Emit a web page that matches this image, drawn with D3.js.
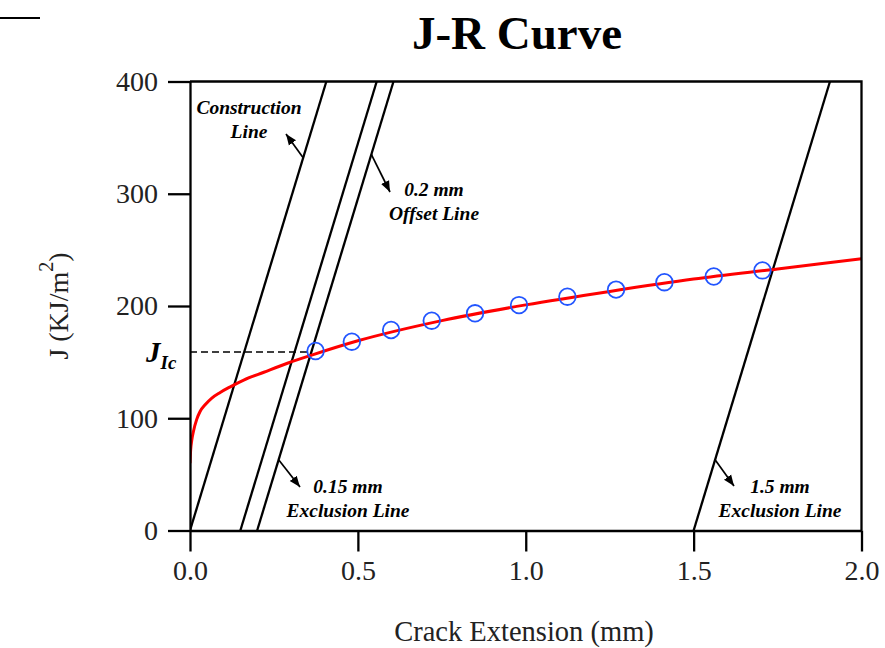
<!DOCTYPE html>
<html><head><meta charset="utf-8">
<script src="https://cdn.jsdelivr.net/npm/d3@7"></script>
<style>body{margin:0;background:#fff}svg{display:block}</style>
</head><body>
<svg id="c" width="885" height="648"></svg>
<script>
// ---- data ----
const xTicks = [0, 0.5, 1.0, 1.5, 2.0];
const yTicks = [0, 100, 200, 300, 400];
const pointsDa = [0.374, 0.482, 0.599, 0.72, 0.849, 0.98, 1.124, 1.269, 1.413, 1.56, 1.705];
const pointsJ  = [159.9, 168.2, 178.6, 186.9, 193.5, 200.8, 208.3, 214.6, 221.2, 226.3, 231.7];
const fitDa = [0, 0.002, 0.005, 0.01, 0.02, 0.03, 0.045, 0.065, 0.09, 0.12, 0.16, 0.22, 0.29, 0.36, 0.5, 0.75, 1.0, 1.25, 1.5, 1.75, 2.0];
const fitJ  = [60, 72, 80, 88, 99, 106, 112, 118, 123, 128, 134, 141, 149, 156, 169, 187, 201, 213, 224, 233, 242];
const lineOffsets = [0, 0.15, 0.2, 1.5];
const lineSlope = 985; // J per mm
const JIc = 159;
const JIcDa = 0.374;

const svg = d3.select("#c");
const x = d3.scaleLinear().domain([0, 2]).range([190, 861.5]);
const y = d3.scaleLinear().domain([0, 400]).range([530.5, 81.5]);
const serif = "'Liberation Serif','Times New Roman',serif";

// stray mark top-left
svg.append("line").attr("x1",0).attr("x2",40).attr("y1",18).attr("y2",18)
  .attr("stroke","#000").attr("stroke-width",2);

// title
svg.append("text").attr("x",517).attr("y",49).attr("text-anchor","middle")
  .attr("font-family",serif).attr("font-weight","bold").attr("font-size",47)
  .text("J-R Curve");

svg.append("defs").append("clipPath").attr("id","pc").append("rect")
  .attr("x",190).attr("y",81.5).attr("width",671.5).attr("height",449);

const mk = svg.select("defs").append("marker").attr("id","ah")
  .attr("viewBox","0 0 10 10").attr("refX",10).attr("refY",5)
  .attr("markerWidth",11).attr("markerHeight",11).attr("markerUnits","userSpaceOnUse")
  .attr("orient","auto");
mk.append("path").attr("d","M0,1 L10,5 L0,9 Z").attr("fill","#000");

// construction / offset / exclusion lines
const g = svg.append("g").attr("clip-path","url(#pc)");
lineOffsets.forEach(o => {
  g.append("line").attr("x1",x(o)).attr("y1",y(0))
    .attr("x2",x(o + 400/lineSlope)).attr("y2",y(400))
    .attr("stroke","#000").attr("stroke-width",2.3);
});

// JIc dashed
svg.append("line").attr("x1",x(0)).attr("x2",x(JIcDa)-6).attr("y1",y(JIc)).attr("y2",y(JIc))
  .attr("stroke","#000").attr("stroke-width",1.5).attr("stroke-dasharray","7,4");

// fitted curve
g.append("path").datum(d3.zip(fitDa, fitJ))
  .attr("d", d3.line().x(d=>x(d[0])).y(d=>y(d[1])).curve(d3.curveMonotoneX))
  .attr("fill","none").attr("stroke","#ff0000").attr("stroke-width",3);

// points
svg.append("g").selectAll("circle").data(d3.zip(pointsDa, pointsJ)).join("circle")
  .attr("cx",d=>x(d[0])).attr("cy",d=>y(d[1])).attr("r",8.3)
  .attr("fill","none").attr("stroke","#2255ff").attr("stroke-width",1.8);

// frame
svg.append("path").attr("d",`M${x(0)},${y(400)}H${x(2)}V${y(0)}`)
  .attr("fill","none").attr("stroke","#000").attr("stroke-width",2.3);

// axes
const xa = svg.append("g").attr("transform",`translate(0,${y(0)})`)
  .call(d3.axisBottom(x).tickValues(xTicks).tickFormat(d3.format(".1f"))
    .tickSizeInner(21).tickSizeOuter(0).tickPadding(9));
const ya = svg.append("g").attr("transform",`translate(${x(0)},0)`)
  .call(d3.axisLeft(y).tickValues(yTicks).tickFormat(d3.format("d"))
    .tickSizeInner(22).tickSizeOuter(0).tickPadding(10));
[xa, ya].forEach(a => {
  a.selectAll("path.domain").attr("stroke","#000").attr("stroke-width",2.3);
  a.selectAll("line").attr("stroke","#000").attr("stroke-width",2.3);
  a.selectAll("text").attr("font-family",serif).attr("font-size",28).attr("fill","#222");
});

// axis titles
svg.append("text").attr("x",524).attr("y",641).attr("text-anchor","middle")
  .attr("font-family",serif).attr("font-size",28.5).attr("fill","#222")
  .text("Crack Extension (mm)");
const yt = svg.append("text").attr("transform","translate(68,306) rotate(-90)")
  .attr("text-anchor","middle").attr("font-family",serif).attr("font-size",28).attr("fill","#222");
yt.append("tspan").text("J (KJ/m");
yt.append("tspan").attr("dy",-15).attr("font-size",20).text("2");
yt.append("tspan").attr("dy",15).text(")");

// JIc label
const jl = svg.append("text").attr("x",146).attr("y",362)
  .attr("font-family",serif).attr("font-weight","bold").attr("font-style","italic").attr("font-size",29);
jl.append("tspan").text("J");
jl.append("tspan").attr("dy",7).attr("font-size",19).text("Ic");

// annotations
function note(lines, cx, by, lh) {
  const t = svg.append("text").attr("text-anchor","middle")
    .attr("font-family",serif).attr("font-weight","bold").attr("font-style","italic").attr("font-size",19.5);
  lines.forEach((s,i)=> t.append("tspan").attr("x",cx).attr("y",by + i*lh).text(s));
}
function arrow(x1,y1,x2,y2){
  svg.append("line").attr("x1",x1).attr("y1",y1).attr("x2",x2).attr("y2",y2)
    .attr("stroke","#000").attr("stroke-width",1.7).attr("marker-end","url(#ah)");
}
note(["Construction","Line"], 249, 114, 24);
arrow(x(0 + 332/lineSlope), y(332), 286, 134);
note(["0.2 mm","Offset Line"], 434, 196, 24);
arrow(x(0.2 + 335/lineSlope), y(335), 390, 192);
note(["0.15 mm","Exclusion Line"], 348, 493, 24);
arrow(x(0.2 + 63/lineSlope), y(63), 300, 487);
note(["1.5 mm","Exclusion Line"], 780, 493, 24);
arrow(x(1.5 + 63/lineSlope), y(63), 734, 486);
</script>
</body></html>
